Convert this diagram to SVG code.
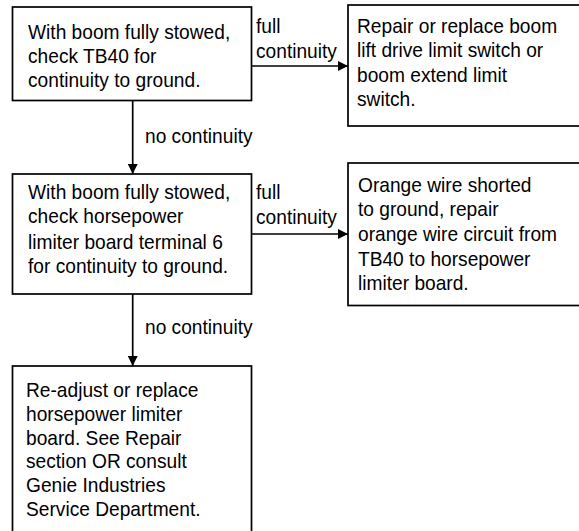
<svg xmlns="http://www.w3.org/2000/svg" width="579" height="531" viewBox="0 0 579 531">
<style>
.box{fill:#fff;stroke:#000;stroke-width:1.7}
.t{font-family:"Liberation Sans",Arial,Helvetica,sans-serif;font-size:20.5px;fill:#000}
.c{fill:none;stroke:#000;stroke-width:1.7}
</style>
<defs>
<marker id="ah" viewBox="0 0 10 10" refX="10" refY="5" markerWidth="10" markerHeight="10" markerUnits="userSpaceOnUse" orient="auto">
<path d="M0,0 L10,5 L0,10 Z" fill="#000"/>
</marker>
</defs>
<rect width="579" height="531" fill="#fff"/>
<g id="connectors">
<line class="c" x1="251.5" y1="66" x2="348" y2="66" marker-end="url(#ah)"/>
<line class="c" x1="132.7" y1="100.5" x2="132.7" y2="174" marker-end="url(#ah)"/>
<line class="c" x1="251.5" y1="234" x2="348" y2="234" marker-end="url(#ah)"/>
<line class="c" x1="132.7" y1="294" x2="132.7" y2="366" marker-end="url(#ah)"/>
<g transform="translate(256 0) scale(0.935 1)">
<text class="t" x="0" y="33">full</text>
<text class="t" x="0" y="58">continuity</text>
<text class="t" x="0" y="199">full</text>
<text class="t" x="0" y="224">continuity</text>
</g>
<g transform="translate(145 0) scale(0.935 1)">
<text class="t" x="0" y="143">no continuity</text>
<text class="t" x="0" y="334">no continuity</text>
</g>
</g>
<g id="node1">
<rect class="box" x="12.5" y="7" width="239" height="93.5"/>
<g transform="translate(28 0) scale(0.935 1)">
<text class="t" x="0" y="39">With boom fully stowed,</text>
<text class="t" x="0" y="63">check TB40 for</text>
<text class="t" x="0" y="87">continuity to ground.</text>
</g>
</g>
<g id="node2">
<rect class="box" x="348" y="5" width="260" height="121"/>
<g transform="translate(357 0) scale(0.935 1)">
<text class="t" x="0" y="33">Repair or replace boom</text>
<text class="t" x="0" y="57.5">lift drive limit switch or</text>
<text class="t" x="0" y="82">boom extend limit</text>
<text class="t" x="0" y="106.5">switch.</text>
</g>
</g>
<g id="node3">
<rect class="box" x="12.5" y="174" width="239" height="120"/>
<g transform="translate(28 0) scale(0.935 1)">
<text class="t" x="0" y="199">With boom fully stowed,</text>
<text class="t" x="0" y="223.5">check horsepower</text>
<text class="t" x="0" y="249">limiter board terminal 6</text>
<text class="t" x="0" y="273.5">for continuity to ground.</text>
</g>
</g>
<g id="node4">
<rect class="box" x="348" y="163" width="260" height="142.5"/>
<g transform="translate(358 0) scale(0.935 1)">
<text class="t" x="0" y="192">Orange wire shorted</text>
<text class="t" x="0" y="216.5">to ground, repair</text>
<text class="t" x="0" y="241.5">orange wire circuit from</text>
<text class="t" x="0" y="266">TB40 to horsepower</text>
<text class="t" x="0" y="290.5">limiter board.</text>
</g>
</g>
<g id="node5">
<rect class="box" x="12.5" y="366" width="239" height="200"/>
<g transform="translate(26 0) scale(0.935 1)">
<text class="t" x="0" y="397">Re-adjust or replace</text>
<text class="t" x="0" y="421">horsepower limiter</text>
<text class="t" x="0" y="445">board. See Repair</text>
<text class="t" x="0" y="468.5">section OR consult</text>
<text class="t" x="0" y="492.5">Genie Industries</text>
<text class="t" x="0" y="516">Service Department.</text>
</g>
</g>
</svg>
